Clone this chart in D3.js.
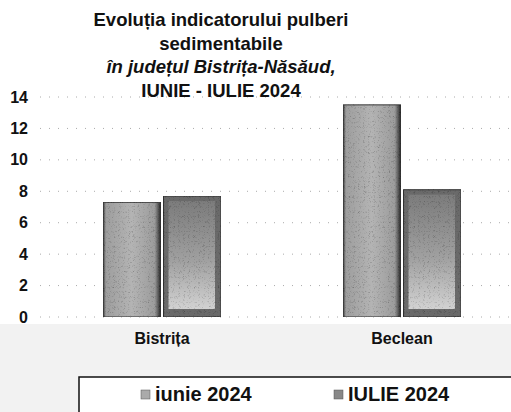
<!DOCTYPE html>
<html lang="ro">
<head>
<meta charset="UTF-8">
<title>Pulberi sedimentabile</title>
<script src="https://cdn.jsdelivr.net/npm/d3@7"></script>
<style>
  body { margin: 0; background: #fff; }
  svg { display: block; font-family: "Liberation Sans", Arial, sans-serif; }
  .title { font-size: 18.5px; font-weight: bold; fill: #111; }
  .axisY text { font-size: 16px; font-weight: bold; fill: #111; }
  .cat { font-size: 16px; font-weight: bold; fill: #111; }
  .legend text { font-size: 20px; font-weight: bold; fill: #111; }
</style>
</head>
<body>
<script>
var categories = ['Bistrița', 'Beclean'];
var series = ['iunie 2024', 'IULIE 2024'];
var iunie = [7.3, 13.5];
var iulie = [7.7, 8.1];
var yTicks = [0, 2, 4, 6, 8, 10, 12, 14];
var titleLines = ['Evoluția indicatorului pulberi', 'sedimentabile', 'în județul Bistrița-Năsăud,', 'IUNIE - IULIE 2024'];

var W = 511, H = 412;

var svg = d3.select('body').append('svg')
  .attr('width', W)
  .attr('height', H);

var defs = svg.append('defs');

// fine speckle, like the scanned halftone
var f = defs.append('filter').attr('id', 'grain')
  .attr('x', 0).attr('y', 0).attr('width', 1).attr('height', 1);
f.append('feTurbulence').attr('type', 'turbulence')
  .attr('baseFrequency', 2.2).attr('numOctaves', 1).attr('seed', 7).attr('result', 'n');
f.append('feColorMatrix').attr('in', 'n').attr('type', 'matrix')
  .attr('values', '0 0 0 0 0  0 0 0 0 0  0 0 0 0 0  0 0 0 1.1 -0.25').attr('result', 'dots');
f.append('feComposite').attr('in', 'dots').attr('in2', 'SourceGraphic')
  .attr('operator', 'in').attr('result', 'd2');
var m = f.append('feMerge');
m.append('feMergeNode').attr('in', 'SourceGraphic');
m.append('feMergeNode').attr('in', 'd2');

var g1 = defs.append('linearGradient').attr('id', 'gJun')
  .attr('x1', 0).attr('x2', 1).attr('y1', 0).attr('y2', 0);
g1.append('stop').attr('offset', '0%').attr('stop-color', '#3a3a3a');
g1.append('stop').attr('offset', '5%').attr('stop-color', '#9e9e9e');
g1.append('stop').attr('offset', '50%').attr('stop-color', '#b4b4b4');
g1.append('stop').attr('offset', '90%').attr('stop-color', '#9c9c9c');
g1.append('stop').attr('offset', '100%').attr('stop-color', '#2e2e2e');

var g2 = defs.append('linearGradient').attr('id', 'gJul')
  .attr('x1', 0).attr('x2', 0).attr('y1', 0).attr('y2', 1);
g2.append('stop').attr('offset', '0%').attr('stop-color', '#7c7c7c');
g2.append('stop').attr('offset', '55%').attr('stop-color', '#a0a0a0');
g2.append('stop').attr('offset', '100%').attr('stop-color', '#d2d2d2');

// light stipple along the bottom of the scan
svg.append('rect')
  .attr('x', 0).attr('y', 324).attr('width', W).attr('height', H - 324)
  .attr('fill', '#f2f2f2');

var y = d3.scaleLinear().domain([0, 14]).range([317, 97]);
var x = d3.scaleBand().domain(categories).range([42, 522]);
var xs = d3.scaleBand().domain(series).range([61, 179]).paddingInner(0.05);

// dotted grid
svg.append('g')
  .selectAll('line')
  .data(yTicks)
  .enter().append('line')
  .attr('x1', 40).attr('x2', W)
  .attr('y1', function (d) { return y(d); })
  .attr('y2', function (d) { return y(d); })
  .attr('stroke', '#aaa')
  .attr('stroke-width', 1)
  .attr('stroke-dasharray', '1,8');

var axis = svg.append('g')
  .attr('class', 'axisY')
  .attr('transform', 'translate(28,0)')
  .call(d3.axisLeft(y).tickValues(yTicks).tickSize(0).tickPadding(0));
axis.select('.domain').remove();

var rows = categories.map(function (c, i) {
  return { cat: c, vals: [iunie[i], iulie[i]] };
});

var grp = svg.selectAll('.grp')
  .data(rows)
  .enter().append('g')
  .attr('class', 'grp')
  .attr('transform', function (d) { return 'translate(' + x(d.cat) + ',0)'; });

var bars = grp.selectAll('.bar')
  .data(function (d) { return d.vals.map(function (v, j) { return { s: series[j], v: v }; }); })
  .enter().append('g')
  .attr('class', 'bar')
  .attr('filter', 'url(#grain)');

bars.append('rect')
  .attr('x', function (d) { return xs(d.s); })
  .attr('width', xs.bandwidth())
  .attr('y', function (d) { return y(d.v); })
  .attr('height', function (d) { return y(0) - y(d.v); })
  .attr('fill', function (d) { return d.s === series[0] ? 'url(#gJun)' : '#6a6a6a'; })
  .attr('stroke', '#333')
  .attr('stroke-width', 1);

// bevelled inner face of the july bars
bars.filter(function (d) { return d.s === series[1]; })
  .append('rect')
  .attr('x', function (d) { return xs(d.s) + 5; })
  .attr('width', xs.bandwidth() - 11)
  .attr('y', function (d) { return y(d.v) + 5; })
  .attr('height', function (d) { return y(0) - y(d.v) - 13; })
  .attr('fill', 'url(#gJul)');

svg.selectAll('.cat')
  .data(categories)
  .enter().append('text')
  .attr('class', 'cat')
  .attr('x', function (d) { return x(d) + x.bandwidth() / 2; })
  .attr('y', 344)
  .attr('text-anchor', 'middle')
  .text(function (d) { return d; });

svg.selectAll('.title')
  .data(titleLines)
  .enter().append('text')
  .attr('class', 'title')
  .attr('x', 221)
  .attr('y', function (d, i) { return 26 + i * 23.5; })
  .attr('text-anchor', 'middle')
  .style('font-style', function (d, i) { return i === 2 ? 'italic' : 'normal'; })
  .text(function (d) { return d; });

// legend box
svg.append('rect')
  .attr('x', 79).attr('y', 377).attr('width', 460).attr('height', 60)
  .attr('fill', '#fff').attr('stroke', '#111').attr('stroke-width', 1.5);

var legX = [141, 334];
var legend = svg.selectAll('.legend')
  .data(series)
  .enter().append('g')
  .attr('class', 'legend')
  .attr('transform', function (d, i) { return 'translate(' + legX[i] + ',390)'; });

legend.append('rect')
  .attr('width', 9).attr('height', 9)
  .attr('fill', function (d, i) { return i === 0 ? '#aaa' : '#888'; })
  .attr('stroke', '#555').attr('stroke-width', 0.5);

legend.append('text')
  .attr('x', 14).attr('y', 11)
  .text(function (d) { return d; });
</script>
</body>
</html>
